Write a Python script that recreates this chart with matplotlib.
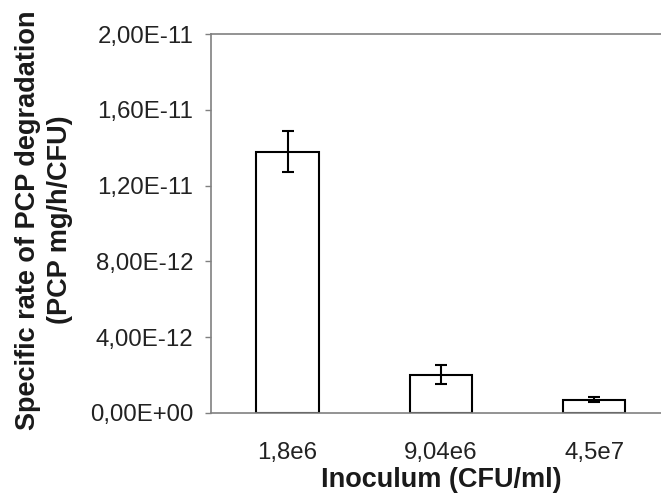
import matplotlib
matplotlib.use("Agg")
import matplotlib.pyplot as plt
from matplotlib.ticker import FuncFormatter

plt.rcParams['font.family'] = ['Liberation Sans', 'DejaVu Sans']

# data
inoculum = ["1,8e6", "9,04e6", "4,5e7"]
rate = [1.38e-11, 2.02e-12, 0.69e-12]
rate_err = [1.1e-12, 0.52e-12, 0.14e-12]
yticks = [0, 4e-12, 8e-12, 1.2e-11, 1.6e-11, 2e-11]

fig = plt.figure(figsize=(6.61, 4.95), dpi=100)
ax = fig.add_axes([0.319, 0.166, 0.696, 0.765])

x = range(len(inoculum))
ax.bar(x, rate, width=0.405, color="white", edgecolor="black", linewidth=1.5,
       yerr=rate_err, error_kw=dict(ecolor="black", elinewidth=1.5, capsize=4.3, capthick=1.5))

ax.set_xlim(-0.5, 2.5)
ax.set_ylim(0, 2e-11)
ax.set_yticks(yticks)
ax.yaxis.set_major_formatter(FuncFormatter(lambda v, p: f"{v:.2E}".replace(".", ",")))
ax.set_xticks(list(x))
ax.set_xticklabels(inoculum)

for s in ax.spines.values():
    s.set_color("#808080")
    s.set_linewidth(1.2)

ax.tick_params(axis="y", direction="out", length=4.5, width=1.0, color="#808080",
               labelsize=17.3, pad=8, labelcolor="#222222")
ax.tick_params(axis="x", length=0, labelsize=17.3, pad=21, labelcolor="#222222")

ax.set_xlabel("Inoculum (CFU/ml)", fontsize=19.5, fontweight="bold", labelpad=2.5,
              color="#1a1a1a")
fig.text(0.066, 0.556, "Specific rate of PCP degradation\n(PCP mg/h/CFU)",
         rotation=90, ha="center", va="center", multialignment="center",
         fontsize=19.5, fontweight="bold", color="#1a1a1a", linespacing=1.3)

fig.savefig("out.png", dpi=100)
